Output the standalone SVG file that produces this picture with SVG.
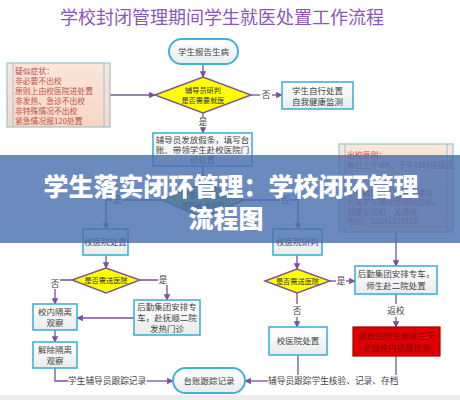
<svg xmlns="http://www.w3.org/2000/svg" width="460" height="400" viewBox="0 0 460 400">
<defs>
<linearGradient id="gBox" x1="0" y1="0" x2="0" y2="1"><stop offset="0" stop-color="#ffffff"/><stop offset="1" stop-color="#e9ebec"/></linearGradient>
<linearGradient id="gPeach" x1="0" y1="0" x2="0" y2="1"><stop offset="0" stop-color="#fbe6da"/><stop offset="1" stop-color="#f8d6c4"/></linearGradient>
<marker id="ah" viewBox="0 0 10 10" refX="9" refY="5" markerWidth="5" markerHeight="5" orient="auto"><path d="M0,0 L10,5 L0,10 z" fill="#7a4f9c"/></marker>
</defs>
<style>
.box{fill:url(#gBox);stroke:#3fb3d6;stroke-width:1.6}
.pill{fill:url(#gBox);stroke:#3fb3d6;stroke-width:2}
.peach{fill:url(#gPeach);stroke:#8fc6d6;stroke-width:1.2}
.inner{stroke:#8fc6d6;stroke-width:1}
.dia{fill:#ffff00;stroke:#7a5a8e;stroke-width:1.4}
.dia2{fill:#92c05c;stroke:#7a5a8e;stroke-width:1.4}
.t{font-family:"Noto Sans CJK SC","Noto Sans",sans-serif;font-size:8.5px;fill:#444;text-anchor:middle}
.ts{font-family:"Noto Sans CJK SC","Noto Sans",sans-serif;font-size:7.2px;fill:#333;text-anchor:middle}
.pt{font-family:"Noto Sans CJK SC","Noto Sans",sans-serif;font-size:7.8px;fill:#c0504d}
.lb{font-family:"Noto Sans CJK SC","Noto Sans",sans-serif;font-size:8.7px;fill:#444}
.lbc{font-family:"Noto Sans CJK SC","Noto Sans",sans-serif;font-size:8.7px;fill:#444;text-anchor:middle}
.c{fill:none;stroke:#7a4f9c;stroke-width:1.3}
.ca{fill:none;stroke:#7a4f9c;stroke-width:1.3;marker-end:url(#ah)}
.bg{fill:#ffffff}
</style>
<rect x="0" y="0" width="460" height="400" fill="#ffffff"/>
<rect x="0" y="395" width="460" height="5" fill="#ececec"/>
<text x="222" y="24" font-family="'Noto Sans CJK SC','Noto Sans',sans-serif" font-size="18" fill="#8e55b8" text-anchor="middle">学校封闭管理期间学生就医处置工作流程</text>

<g id="connectors">
<path class="ca" d="M203,64 V77"/>
<path class="ca" d="M110,95 H155"/>
<path class="c" d="M251,95 H260"/>
<text class="lbc" x="266" y="98">否</text>
<path class="ca" d="M272,95 H282"/>
<path class="c" d="M203,113 V117"/>
<text class="lbc" x="203" y="125">是</text>
<path class="ca" d="M203,127 V133"/>
<path class="ca" d="M203,166 V182"/>
<path class="ca" d="M162,200 H106 V229"/>
<rect class="bg" x="112" y="194" width="10" height="10"/>
<text class="lbc" x="117" y="203">是</text>
<path class="ca" d="M244,200 H298 V229"/>
<rect class="bg" x="280" y="194" width="10" height="10"/>
<text class="lbc" x="285" y="203">否</text>
<path class="ca" d="M396,232 V266"/>
<path class="ca" d="M297,255 V269"/>
<path class="c" d="M330,281 H336"/>
<text class="lbc" x="341" y="284">是</text>
<path class="ca" d="M346,281 H355"/>
<path class="c" d="M297,293 V304"/>
<text class="lbc" x="297" y="314">否</text>
<path class="ca" d="M297,317 V327"/>
<path class="c" d="M396,294 V304"/>
<text class="lbc" x="396" y="314">返校</text>
<path class="ca" d="M396,317 V327"/>
<path class="ca" d="M106,255 V268"/>
<path class="ca" d="M72,280 H55 V304"/>
<rect class="bg" x="50" y="279" width="10" height="10"/>
<text class="lbc" x="55" y="287">否</text>
<path class="ca" d="M140,280 H167 V300"/>
<rect class="bg" x="158" y="275" width="10" height="10"/>
<text class="lbc" x="163" y="283">是</text>
<path class="ca" d="M134,318 H77"/>
<path class="ca" d="M55,330 V342"/>
<path class="c" d="M55,368 V381 H68"/>
<text class="lb" x="68" y="384">学生辅导员跟踪记录</text>
<path class="ca" d="M147,381 H173"/>
<path class="c" d="M298,355 V375"/>
<path class="c" d="M396,356 V375"/>
<text class="lb" x="268" y="384">辅导员跟踪学生核验、记录、存档</text>
<path class="ca" d="M268,381 H245"/>
</g>

<g id="start">
<rect class="pill" x="169" y="39" width="69" height="25" rx="12.5"/>
<text class="t" x="203.5" y="55">学生报告生病</text>
</g>
<g id="judge1">
<polygon class="dia" points="155,95 203,77 251,95 203,113"/>
<text class="ts" x="203" y="93">辅导员研判</text>
<text class="ts" x="203" y="103">是否需要就医</text>
</g>
<g id="note-left">
<rect class="peach" x="7" y="63" width="103" height="64"/>
<line class="inner" x1="13" y1="63" x2="13" y2="127"/>
<line class="inner" x1="104" y1="63" x2="104" y2="127"/>
<text class="pt" x="15" y="74">疑似症状：</text>
<text class="pt" x="15" y="84">非必要不出校</text>
<text class="pt" x="15" y="94">原则上由校医院进处置</text>
<text class="pt" x="15" y="104">非发热、急诊不出校</text>
<text class="pt" x="15" y="114">非特殊情况不出校</text>
<text class="pt" x="15" y="124">紧急情况报120处置</text>
</g>
<g id="self">
<rect class="box" x="282" y="82" width="71" height="27"/>
<text class="t" x="317.5" y="94">学生自行处置</text>
<text class="t" x="317.5" y="105">自我健康监测</text>
</g>
<g id="leave">
<rect class="box" x="153" y="133" width="99" height="33"/>
<text class="t" x="202.5" y="143">辅导员发放假条，填写台</text>
<text class="t" x="202.5" y="153">账、带领学生赴校医院门</text>
<text class="t" x="202.5" y="163">诊处置</text>
</g>
<g id="judge2">
<polygon class="dia2" points="162,200 203,182 244,200 203,218"/>
<text class="ts" x="203" y="198">是否存在发热</text>
<text class="ts" x="203" y="208">或呼吸道症状</text>
</g>
<g id="note-right">
<rect class="peach" x="339" y="144" width="114" height="88"/>
<line class="inner" x1="345" y1="144" x2="345" y2="232"/>
<line class="inner" x1="447" y1="144" x2="447" y2="232"/>
<text class="pt" x="347" y="158">出校原则：</text>
<text class="pt" x="347" y="168">每日上午9时、下午14时由值班</text>
<text class="pt" x="347" y="196">急诊就医时，应按照辅导</text>
<text class="pt" x="347" y="205">员或学生辅导员陪同出校。</text>
<text class="pt" x="347" y="215">保障车司机：关建伟</text>
<text class="pt" x="347" y="224">电话：15241329118</text>
</g>
<g id="clinic-left">
<rect class="box" x="83" y="229" width="45" height="26"/>
<text class="t" x="105.5" y="245">校医院处置</text>
</g>
<g id="clinic-judge">
<rect class="box" x="273" y="229" width="49" height="26"/>
<text class="t" x="297.5" y="245">校医院研判</text>
</g>
<g id="judge3">
<polygon class="dia" points="265,281 297,269 330,281 297,293"/>
<text class="ts" x="297.5" y="284">是否需送医院</text>
</g>
<g id="car-right">
<rect class="box" x="355" y="266" width="82" height="28"/>
<text class="t" x="396" y="277">后勤集团安排专车，</text>
<text class="t" x="396" y="289">师生赴二院处置</text>
</g>
<g id="clinic-right">
<rect class="box" x="269" y="327" width="58" height="28"/>
<text class="t" x="298" y="344">校医院处置</text>
</g>
<g id="return">
<rect x="353" y="327" width="87" height="29" fill="#e00000" stroke="#a00000" stroke-width="1.2"/>
<text class="t" x="396.5" y="339" style="fill:#8a0000">返校后师生继续三天</text>
<text class="t" x="396.5" y="351" style="fill:#8a0000">参加校内核酸检测</text>
</g>
<g id="judge4">
<polygon class="dia" points="72,280 106,268 140,280 106,293"/>
<text class="ts" x="106" y="283">是否需送医院</text>
</g>
<g id="car-left">
<rect class="box" x="134" y="300" width="66" height="35"/>
<text class="t" x="167" y="310">后勤集团安排专</text>
<text class="t" x="167" y="321">车，赴抚顺二院</text>
<text class="t" x="167" y="332">发热门诊</text>
</g>
<g id="isolate">
<rect class="box" x="33" y="304" width="44" height="26"/>
<text class="t" x="55" y="315">校内隔离</text>
<text class="t" x="55" y="326">观察</text>
</g>
<g id="release">
<rect class="box" x="33" y="342" width="44" height="26"/>
<text class="t" x="55" y="353">解除隔离</text>
<text class="t" x="55" y="364">观察</text>
</g>
<g id="record">
<rect class="pill" x="173" y="368" width="72" height="25" rx="12.5"/>
<text class="t" x="209" y="384">台账跟踪记录</text>
</g>

<g id="banner">
<rect x="0" y="155" width="460" height="88" fill="#4a70b0" opacity="0.82"/>
<text x="231" y="196" font-family="'Noto Sans CJK SC','Noto Sans',sans-serif" font-size="25" font-weight="900" fill="#ffffff" text-anchor="middle">学生落实闭环管理：学校闭环管理</text>
<text x="226" y="228" font-family="'Noto Sans CJK SC','Noto Sans',sans-serif" font-size="25" font-weight="900" fill="#ffffff" text-anchor="middle">流程图</text>
</g>
</svg>
